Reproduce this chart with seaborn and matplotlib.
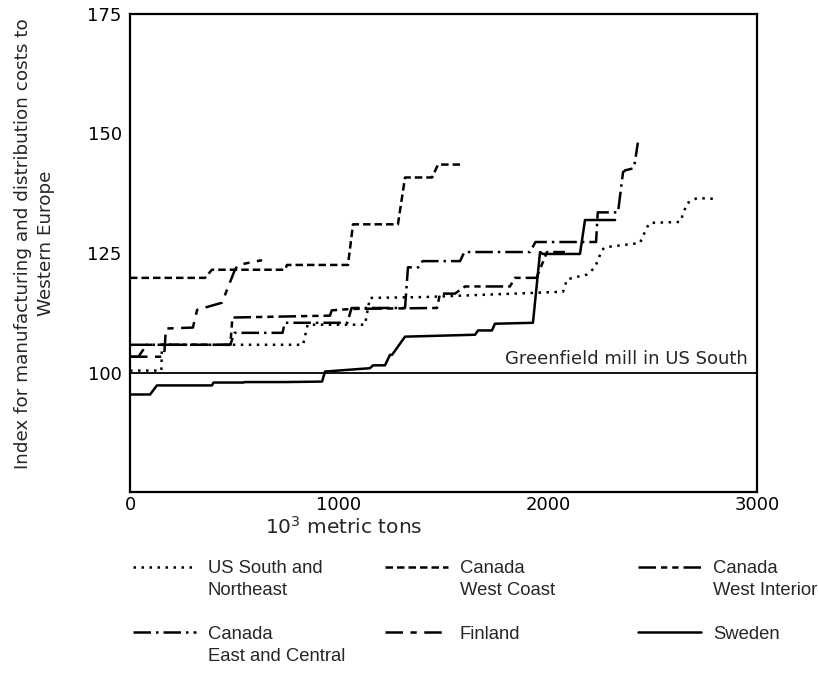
import numpy as np
import pandas as pd
import matplotlib
matplotlib.use("Agg")
import matplotlib.pyplot as plt
from matplotlib.lines import Line2D
import seaborn as sns

# step curves: x in 10^3 metric tons, y = cost index
us_south_x = [0, 150, 153, 828, 850, 1124, 1148, 1420, 2072, 2091, 2187, 2225, 2258,
              2273, 2440, 2474, 2488, 2632, 2641, 2665, 2713, 2813]
us_south_y = [100.4, 100.4, 105.8, 105.8, 110.0, 110.0, 115.6, 115.8, 116.9, 119.5, 120.5,
              122.0, 125.6, 126.2, 127.1, 130.4, 131.3, 131.5, 132.5, 135.4, 136.5, 136.3]

west_coast_x = [0, 359, 392, 742, 751, 1043, 1067, 1282, 1316, 1445, 1474, 1579]
west_coast_y = [119.8, 119.8, 121.5, 121.5, 122.5, 122.5, 131.0, 131.0, 140.8, 140.8, 143.5, 143.5]

west_interior_x = [0, 40, 80, 480, 490, 957, 965, 1060, 1469, 1483, 1555, 1603, 1818,
                   1842, 1945, 1995, 2081]
west_interior_y = [103.3, 103.3, 105.8, 105.8, 111.5, 111.9, 113.0, 113.3, 113.5, 116.5,
                   116.5, 118.0, 118.0, 119.8, 119.8, 125.2, 125.2]

east_central_x = [0, 480, 500, 730, 740, 1040, 1060, 1316, 1330, 1380, 1400, 1579, 1600,
                  1914, 1940, 2230, 2238, 2335, 2359, 2370, 2407, 2416, 2430]
east_central_y = [105.8, 105.8, 108.3, 108.3, 110.4, 110.4, 113.5, 113.5, 122.0, 122.0,
                  123.3, 123.3, 125.2, 125.2, 127.3, 127.3, 133.5, 133.5, 141.9, 142.3,
                  142.7, 144.0, 148.1]

finland_x = [0, 163, 172, 301, 321, 440, 502, 517, 632]
finland_y = [103.3, 103.3, 109.2, 109.4, 113.1, 114.6, 121.5, 122.5, 123.5]

sweden_x = [0, 96, 129, 392, 400, 541, 550, 742, 919, 933, 1148, 1163, 1220, 1244, 1254,
            1316, 1651, 1665, 1732, 1746, 1928, 1962, 1975, 2153, 2177, 2321]
sweden_y = [95.4, 95.4, 97.3, 97.3, 97.9, 97.9, 98.0, 98.0, 98.1, 100.2, 100.9, 101.5,
            101.5, 103.7, 103.7, 107.5, 107.9, 108.8, 108.8, 110.2, 110.4, 125.2, 124.8,
            124.8, 131.9, 131.9]

greenfield_level = 100

# name (legend lines), x, y, dash style
series = [
    (["US South and", "Northeast"], us_south_x, us_south_y, (0, (1, 2.2))),
    (["Canada", "East and Central"], east_central_x, east_central_y, (0, (7, 2, 1, 2))),
    (["Canada", "West Coast"], west_coast_x, west_coast_y, (0, (3, 1.6))),
    (["Finland"], finland_x, finland_y, (0, (7, 3, 2.5, 3))),
    (["Canada", "West Interior"], west_interior_x, west_interior_y, (0, (7, 2, 2.5, 2, 2.5, 2))),
    (["Sweden"], sweden_x, sweden_y, "-"),
]

sns.set_style("white")
plt.rcParams['font.family'] = ['Liberation Sans', 'DejaVu Sans']
plt.rcParams['mathtext.fontset'] = 'custom'
plt.rcParams['mathtext.rm'] = 'DejaVu Sans'
plt.rcParams['mathtext.it'] = 'DejaVu Sans'

fig = plt.figure(figsize=(8.18, 6.93), dpi=100)
ax = fig.add_axes([130 / 818, 1 - 492 / 693, 627 / 818, 478 / 693])

handles = []
for name, xs, ys, ls in series:
    df = pd.DataFrame({"x": xs, "y": ys})
    sns.lineplot(data=df, x="x", y="y", sort=False, estimator=None, color="black",
                 linewidth=1.8, ax=ax, legend=False)
    line = ax.get_lines()[-1]
    line.set_linestyle(ls)
    handles.append(line)

ax.axhline(greenfield_level, color="black", linewidth=1.3)
ax.text(2957, 101.8, "Greenfield mill in US South", ha="right", va="baseline",
        fontsize=13, family="DejaVu Sans")

ax.set_xlim(0, 3000)
ax.set_ylim(75, 175)
ax.set_xticks([0, 1000, 2000, 3000])
ax.set_yticks([100, 125, 150, 175])
ax.tick_params(direction="in", length=7, width=1.2, labelsize=13, colors="black")
ax.tick_params(axis="y", pad=6)
ax.tick_params(axis="x", pad=3)
for lab in ax.get_xticklabels() + ax.get_yticklabels():
    lab.set_family("DejaVu Sans")
for sp in ax.spines.values():
    sp.set_color("black")
    sp.set_linewidth(1.6)

ax.set_xlabel("$10^3$ metric tons", fontsize=14.5, family="DejaVu Sans")
ax.xaxis.set_label_coords(0.341, -0.05)
ax.set_ylabel("Index for manufacturing and distribution costs to\nWestern Europe",
              fontsize=13.2, family="DejaVu Sans", multialignment="center",
              linespacing=1.35)
ax.yaxis.set_label_coords(-0.12, 0.52)

# legend: three columns, each with two entries written one text line per row
blank = Line2D([], [], linestyle="none")
col_x = [133, 385, 638]
for i in range(3):
    hs, labels = [], []
    for k in (2 * i, 2 * i + 1):
        lines = series[k][0] + [""] * (2 - len(series[k][0]))
        hs += [handles[k], blank]
        labels += lines
        if k == 2 * i:
            hs.append(blank)
            labels.append("")
    fig.legend(hs, labels, loc="upper left", bbox_to_anchor=(col_x[i] / 818, 1 - 560 / 693),
               frameon=False, fontsize=13.3, handlelength=3.4, handletextpad=0.65,
               labelspacing=0.27, borderpad=0, borderaxespad=0)

fig.savefig("out.png", dpi=100)
